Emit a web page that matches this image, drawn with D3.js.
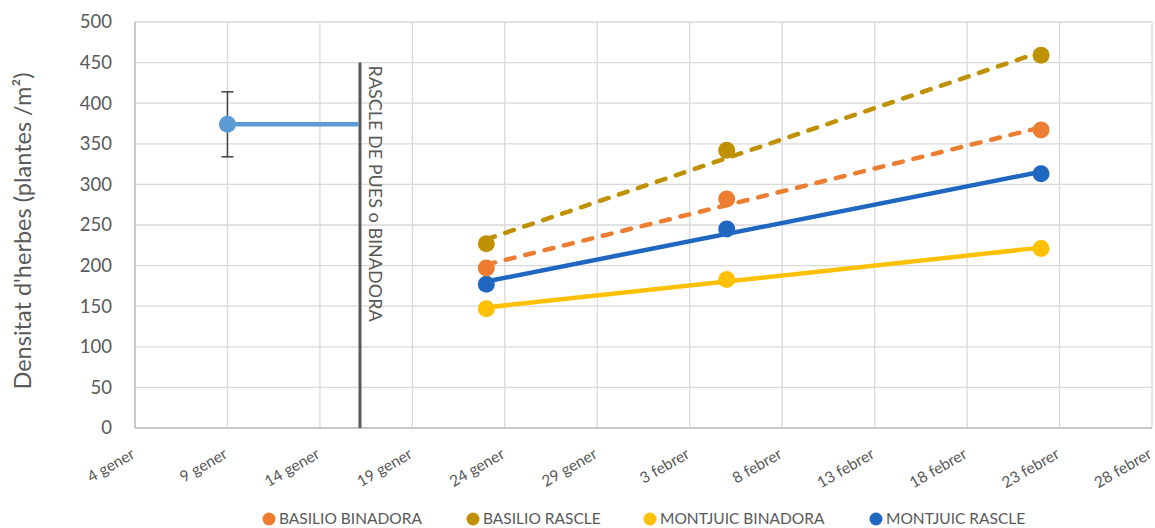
<!DOCTYPE html>
<html>
<head>
<meta charset="utf-8">
<script src="https://cdn.jsdelivr.net/npm/d3@7"></script>
<style>
  html, body { margin: 0; padding: 0; background: #fff; }
  svg { display: block; font-family: Lato, "Liberation Sans", sans-serif; }
</style>
</head>
<body>
<svg id="chart" width="1155" height="528"></svg>
<script>
// ---------- data ----------
const tickDates = ["2021-01-04","2021-01-09","2021-01-14","2021-01-19","2021-01-24","2021-01-29",
                   "2021-02-03","2021-02-08","2021-02-13","2021-02-18","2021-02-23","2021-02-28"];
const tickLabels = ["4 gener","9 gener","14 gener","19 gener","24 gener","29 gener",
                    "3 febrer","8 febrer","13 febrer","18 febrer","23 febrer","28 febrer"];
const yTicks = [0,50,100,150,200,250,300,350,400,450,500];

const sampleDates = ["2021-01-23","2021-02-05","2021-02-22"];
const seriesNames = ["BASILIO BINADORA","BASILIO RASCLE","MONTJUIC BINADORA","MONTJUIC RASCLE"];
const basilioBinadora = [197, 282, 367];
const basilioRascle   = [227, 342, 459];
const montjuicBinadora = [147, 183, 221];
const montjuicRascle   = [177, 245, 313];
const seriesColors = ["#ED7D31","#BF9000","#FFC000","#1F67C1"];
const seriesDashed = [true, true, false, false];

const initialDate = "2021-01-09";
const initialValue = 374;
const initialError = 40;
const eventDate = "2021-01-16T04:00";
const eventTop = 450;
const eventLabel = "RASCLE DE PUES o BINADORA";
const yTitle = "Densitat d'herbes (plantes /m²)";

// ---------- layout ----------
const svg = d3.select("#chart");
const mLeft = 135, mRight = 1152, mTop = 22, mBottom = 428;
const parse = d3.isoParse;
const x = d3.scaleTime().domain([parse(tickDates[0]), parse(tickDates[tickDates.length-1])]).range([mLeft, mRight]);
const y = d3.scaleLinear().domain([0, 500]).range([mBottom, mTop]);

const textColor = "#595959";
const grid = svg.append("g");
grid.selectAll("line.h").data(yTicks).join("line")
  .attr("x1", mLeft).attr("x2", mRight)
  .attr("y1", d => y(d)).attr("y2", d => y(d))
  .attr("stroke", "#d9d9d9").attr("stroke-width", 1.3);
grid.selectAll("line.v").data(tickDates).join("line")
  .attr("x1", d => x(parse(d))).attr("x2", d => x(parse(d)))
  .attr("y1", mTop).attr("y2", mBottom)
  .attr("stroke", "#d9d9d9").attr("stroke-width", 1.3);
svg.append("line").attr("x1", mLeft).attr("x2", mRight).attr("y1", mBottom).attr("y2", mBottom)
  .attr("stroke", "#bfbfbf").attr("stroke-width", 1.5);
svg.append("line").attr("x1", mLeft).attr("x2", mLeft).attr("y1", mTop).attr("y2", mBottom)
  .attr("stroke", "#bfbfbf").attr("stroke-width", 1.5);

// y tick labels
svg.append("g").selectAll("text").data(yTicks).join("text")
  .attr("x", 112).attr("y", d => y(d)).attr("dy", "0.35em")
  .attr("text-anchor", "end").attr("fill", textColor).attr("font-size", 18.5)
  .text(d => d);

// y title
svg.append("text")
  .attr("transform", `translate(31,231) rotate(-90)`)
  .attr("text-anchor", "middle").attr("fill", textColor).attr("font-size", 23.5)
  .text(yTitle);

// x tick labels
svg.append("g").selectAll("text").data(tickDates).join("text")
  .attr("transform", d => `translate(${x(parse(d)) + 1},${mBottom + 29}) rotate(-30)`)
  .attr("text-anchor", "end").attr("fill", textColor).attr("font-size", 15.5)
  .text((d, i) => tickLabels[i]);

// event vertical line
const ex = x(parse(eventDate));
svg.append("line").attr("x1", ex).attr("x2", ex).attr("y1", y(eventTop)).attr("y2", mBottom)
  .attr("stroke", "#595959").attr("stroke-width", 3);
svg.append("text")
  .attr("transform", `translate(${ex + 9},${y(eventTop) + 3}) rotate(90)`)
  .attr("text-anchor", "start").attr("fill", textColor).attr("font-size", 18)
  .text(eventLabel);

// initial measurement
const ix = x(parse(initialDate));
svg.append("line").attr("x1", ix).attr("x2", ex - 1.5)
  .attr("y1", y(initialValue)).attr("y2", y(initialValue))
  .attr("stroke", "#5B9BD5").attr("stroke-width", 4.5);
const eb = svg.append("g").attr("stroke", "#404040").attr("stroke-width", 1.5);
eb.append("line").attr("x1", ix).attr("x2", ix)
  .attr("y1", y(initialValue + initialError)).attr("y2", y(initialValue - initialError));
[initialValue + initialError, initialValue - initialError].forEach(v => {
  eb.append("line").attr("x1", ix - 6).attr("x2", ix + 6).attr("y1", y(v)).attr("y2", y(v));
});
svg.append("circle").attr("cx", ix).attr("cy", y(initialValue)).attr("r", 8.5).attr("fill", "#5B9BD5");

// series: linear trendlines + markers
const allSeries = [basilioBinadora, basilioRascle, montjuicBinadora, montjuicRascle];
const xs = sampleDates.map(d => parse(d));
function regression(vals) {
  const t = xs.map(d => +d);
  const n = t.length;
  const mt = d3.mean(t), mv = d3.mean(vals);
  let sxy = 0, sxx = 0;
  for (let i = 0; i < n; i++) { sxy += (t[i]-mt)*(vals[i]-mv); sxx += (t[i]-mt)**2; }
  const b = sxy / sxx;
  return tt => mv + b * (tt - mt);
}
const order = [2, 3, 0, 1];
order.forEach(i => {
  const vals = allSeries[i];
  const f = regression(vals);
  const t0 = xs[0], t1 = xs[xs.length-1];
  svg.append("line")
    .attr("x1", x(t0)).attr("y1", y(f(+t0)))
    .attr("x2", x(t1)).attr("y2", y(f(+t1)))
    .attr("stroke", seriesColors[i]).attr("stroke-width", 4.5)
    .attr("stroke-linecap", "round")
    .attr("stroke-dasharray", seriesDashed[i] ? "9,11" : null);
});
order.forEach(i => {
  svg.append("g").selectAll("circle").data(allSeries[i]).join("circle")
    .attr("cx", (d, j) => x(xs[j])).attr("cy", d => y(d)).attr("r", 8.5)
    .attr("fill", seriesColors[i]);
});

// legend
const legendX = [269, 473, 650, 876];
const lg = svg.append("g");
seriesNames.forEach((name, i) => {
  lg.append("circle").attr("cx", legendX[i]).attr("cy", 519).attr("r", 6.5).attr("fill", seriesColors[i]);
  lg.append("text").attr("x", legendX[i] + 10).attr("y", 519).attr("dy", "0.35em")
    .attr("fill", textColor).attr("font-size", 15.5).text(name);
});
</script>
</body>
</html>
